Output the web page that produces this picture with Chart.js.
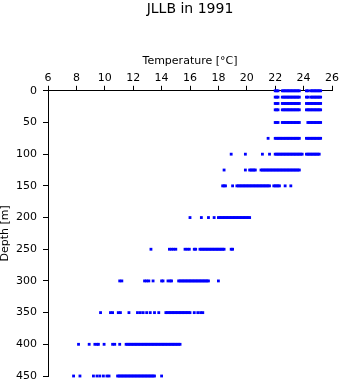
<!DOCTYPE html>
<html>
<head>
<meta charset="utf-8">
<script src="https://cdn.jsdelivr.net/npm/chart.js@4"></script>
<style>
  body { margin: 0; background: #fff; }
</style>
</head>
<body>
<canvas id="profileChart" width="341" height="384"></canvas>
<script>
const depths = [0, 10, 20, 30, 50, 75, 100, 125, 150, 200, 250, 300, 350, 400, 450];

const temps0 = [22.0, 22.1, 22.2, 22.5, 22.6, 22.7, 22.8, 22.9, 23.0, 23.1, 23.2, 23.3, 23.4, 23.5, 23.6, 23.7,
    24.2, 24.3, 24.5, 24.6, 24.7, 24.8, 24.9, 25.0, 25.1, 25.2];
const temps10 = [22.0, 22.1, 22.2, 22.5, 22.6, 22.7, 22.8, 22.9, 23.0, 23.1, 23.2, 23.3, 23.4, 23.5, 23.6, 23.7,
    24.2, 24.3, 24.5, 24.6, 24.7, 24.8, 24.9, 25.0, 25.1, 25.2];
const temps20 = [22.0, 22.1, 22.2, 22.5, 22.6, 22.7, 22.8, 22.9, 23.0, 23.1, 23.2, 23.3, 23.4, 23.5, 23.6, 23.7,
    24.2, 24.3, 24.4, 24.5, 24.6, 24.7, 24.8, 24.9, 25.0, 25.1, 25.2];
const temps30 = [22.0, 22.1, 22.2, 22.5, 22.6, 22.7, 22.8, 22.9, 23.0, 23.1, 23.2, 23.3, 23.4, 23.5, 23.6, 23.7,
    24.2, 24.3, 24.4, 24.5, 24.6, 24.7, 24.8, 24.9, 25.0, 25.1, 25.2];
const temps50 = [22.0, 22.1, 22.2, 22.5, 22.6, 22.7, 22.8, 22.9, 23.0, 23.1, 23.2, 23.3, 23.4, 23.5, 23.6, 23.7,
    24.3, 24.4, 24.5, 24.6, 24.7, 24.8, 24.9, 25.0, 25.1, 25.2];
const temps75 = [21.5, 22.0, 22.1, 22.2, 22.3, 22.4, 22.5, 22.6, 22.7, 22.8, 22.9, 23.0, 23.1, 23.2, 23.3, 23.4,
    23.5, 23.6, 23.7, 24.2, 24.3, 24.4, 24.5, 24.6, 24.7, 24.8, 24.9, 25.0, 25.1, 25.2];
const temps100 = [18.9, 19.9, 21.1, 21.6, 22.0, 22.1, 22.2, 22.3, 22.4, 22.5, 22.6, 22.7, 22.8, 22.9, 23.0, 23.1,
    23.2, 23.3, 23.4, 23.5, 23.6, 23.7, 23.8, 23.9, 24.2, 24.3, 24.4, 24.5, 24.6, 24.7, 24.8, 24.9, 25.0, 25.1];
const temps125 = [18.4, 19.9, 20.2, 20.3, 20.4, 20.5, 20.6, 21.0, 21.1, 21.2, 21.3, 21.4, 21.5, 21.6, 21.7, 21.8,
    21.9, 22.0, 22.1, 22.2, 22.3, 22.4, 22.5, 22.6, 22.7, 22.8, 22.9, 23.0, 23.1, 23.2, 23.3, 23.4, 23.5, 23.6, 23.7];
const temps150 = [18.3, 18.4, 18.5, 19.0, 19.3, 19.4, 19.5, 19.6, 19.7, 19.8, 19.9, 20.0, 20.1, 20.2, 20.3, 20.4,
    20.5, 20.6, 20.7, 20.8, 20.9, 21.0, 21.1, 21.2, 21.3, 21.4, 21.5, 21.6, 21.9, 22.0, 22.1, 22.2, 22.3, 22.7, 23.1];
const temps200 = [16.0, 16.8, 17.3, 17.7, 18.0, 18.1, 18.2, 18.3, 18.4, 18.5, 18.6, 18.7, 18.8, 18.9, 19.0, 19.1,
    19.2, 19.3, 19.4, 19.5, 19.6, 19.7, 19.8, 19.9, 20.0, 20.1, 20.2];
const temps250 = [13.25, 14.55, 14.7, 14.85, 15.0, 15.65, 15.8, 15.95, 16.3, 16.4, 16.7, 16.8, 16.9, 17.0, 17.1,
    17.2, 17.3, 17.4, 17.5, 17.6, 17.7, 17.8, 17.9, 18.0, 18.1, 18.2, 18.3, 18.4, 18.9, 19.0];
const temps300 = [11.05, 11.2, 12.8, 12.95, 13.1, 13.4, 14.0, 14.1, 14.45, 14.6, 14.7, 15.2, 15.3, 15.4, 15.5, 15.6,
    15.7, 15.8, 15.9, 16.0, 16.1, 16.2, 16.3, 16.4, 16.5, 16.6, 16.7, 16.8, 16.9, 17.0, 17.1, 17.2, 17.3, 18.0];
const temps350 = [9.7, 10.4, 10.55, 10.95, 11.1, 11.7, 12.3, 12.5, 12.7, 12.95, 13.2, 13.5, 13.8, 14.3, 14.4, 14.5,
    14.6, 14.7, 14.8, 14.9, 15.0, 15.1, 15.2, 15.3, 15.4, 15.5, 15.6, 15.7, 15.8, 15.9, 16.0, 16.3, 16.55, 16.75, 16.9];
const temps400 = [8.15, 8.9, 9.3, 9.45, 9.55, 9.95, 10.55, 10.7, 11.05, 11.5, 11.6, 11.7, 11.8, 11.9, 12.0, 12.1,
    12.2, 12.3, 12.4, 12.5, 12.6, 12.7, 12.8, 12.9, 13.0, 13.1, 13.2, 13.3, 13.4, 13.5, 13.6, 13.7, 13.8, 13.9,
    14.0, 14.1, 14.2, 14.3, 14.4, 14.5, 14.6, 14.7, 14.8, 14.9, 15.0, 15.1, 15.2, 15.3];
const temps450 = [7.8, 8.25, 9.2, 9.45, 9.65, 9.9, 10.15, 10.3, 10.9, 11.0, 11.1, 11.2, 11.3, 11.4, 11.5, 11.6,
    11.7, 11.8, 11.9, 12.0, 12.1, 12.2, 12.3, 12.4, 12.5, 12.6, 12.7, 12.8, 12.9, 13.0, 13.1, 13.2, 13.3, 13.4,
    13.5, 14.0];

const tempsByDepth = [temps0, temps10, temps20, temps30, temps50, temps75, temps100, temps125, temps150,
    temps200, temps250, temps300, temps350, temps400, temps450];

const xTickValues = [6, 8, 10, 12, 14, 16, 18, 20, 22, 24, 26];
const yTickValues = [0, 50, 100, 150, 200, 250, 300, 350, 400, 450];

const points = [];
depths.forEach((d, i) => {
    tempsByDepth[i].forEach(t => points.push({ x: t, y: d }));
});

const fontFace = 'DejaVu Sans, sans-serif';
const axisFont = { family: fontFace, size: 11 };

const ctx = document.getElementById('profileChart').getContext('2d');

new Chart(ctx, {
    type: 'scatter',
    data: {
        datasets: [{
            data: points,
            backgroundColor: '#0000ff',
            borderWidth: 0,
            pointStyle: 'rect',
            pointRadius: 2,
            pointHoverRadius: 2,
            clip: false
        }]
    },
    options: {
        responsive: false,
        animation: false,
        devicePixelRatio: 1,
        layout: { padding: { top: 0, right: 9, bottom: 8, left: 0 } },
        plugins: {
            legend: { display: false },
            tooltip: { enabled: false },
            title: {
                display: true,
                text: 'JLLB in 1991',
                fullSize: false,
                color: '#000',
                font: { family: fontFace, size: 14, weight: 'normal' },
                padding: { top: 1, bottom: 28 }
            }
        },
        scales: {
            x: {
                type: 'linear',
                position: 'top',
                min: 6,
                max: 26,
                afterBuildTicks: scale => { scale.ticks = xTickValues.map(v => ({ value: v })); },
                afterFit: scale => {
                    scale.height = 45;
                    scale.paddingLeft = 0;
                    scale.paddingRight = 0;
                },
                grid: { drawOnChartArea: false, drawTicks: true, tickLength: 5, color: '#000' },
                border: { display: true, color: '#000', width: 1 },
                ticks: { color: '#000', font: axisFont, padding: 1, maxRotation: 0, autoSkip: false },
                title: {
                    display: true,
                    text: 'Temperature [°C]',
                    color: '#000',
                    font: axisFont,
                    padding: { top: 9, bottom: 0 }
                }
            },
            y: {
                type: 'linear',
                reverse: true,
                min: 0,
                max: 450,
                afterBuildTicks: scale => { scale.ticks = yTickValues.map(v => ({ value: v })); },
                afterFit: scale => {
                    scale.width = 48;
                    scale.paddingTop = 0;
                    scale.paddingBottom = 0;
                },
                grid: { drawOnChartArea: false, drawTicks: true, tickLength: 5, color: '#000' },
                border: { display: true, color: '#000', width: 1 },
                ticks: { color: '#000', font: axisFont, padding: 6, autoSkip: false },
                title: {
                    display: true,
                    text: 'Depth [m]',
                    color: '#000',
                    font: { family: fontFace, size: 11, lineHeight: 1 },
                    padding: { top: 0, bottom: 0 }
                }
            }
        }
    }
});
</script>
</body>
</html>
